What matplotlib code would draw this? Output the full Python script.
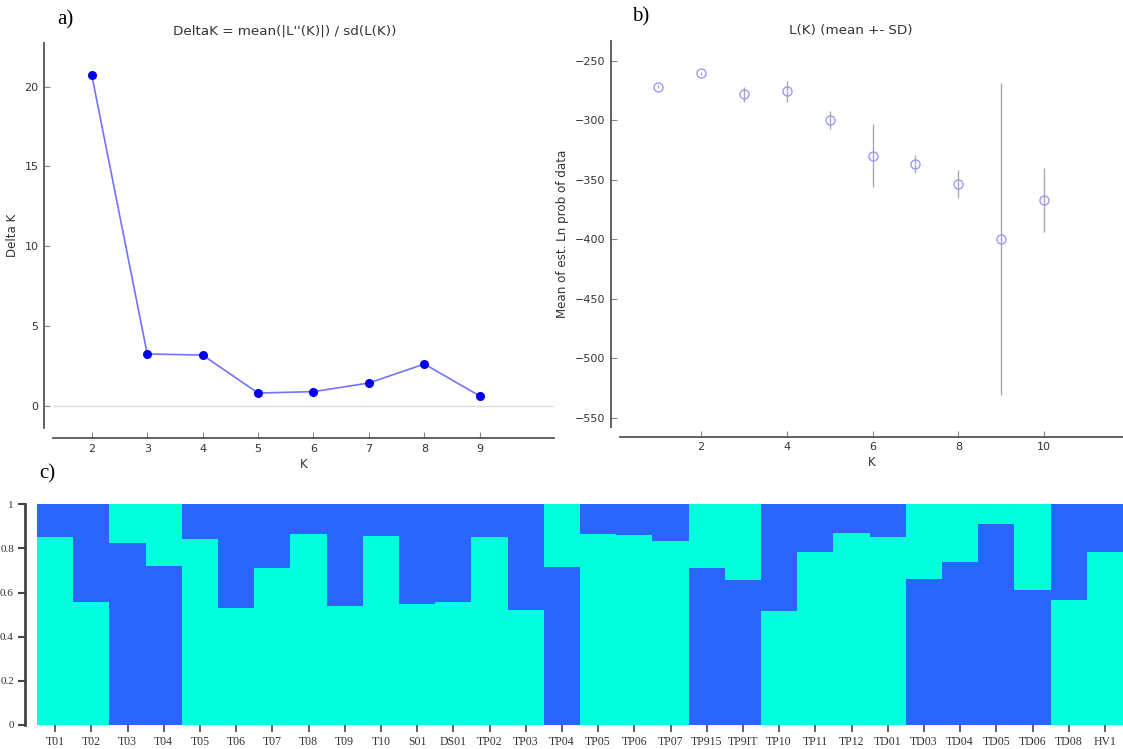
import matplotlib
matplotlib.use("Agg")
import matplotlib.pyplot as plt
import numpy as np

# a) Delta K by K
k_delta = [2, 3, 4, 5, 6, 7, 8, 9]
delta_k = [20.71, 3.24, 3.17, 0.79, 0.88, 1.42, 2.61, 0.61]

# b) L(K) mean and SD
k_lk = [1, 2, 3, 4, 5, 6, 7, 8, 9, 10]
lk_mean = [-271.6, -260.4, -278.0, -275.5, -299.4, -329.6, -336.4, -353.2, -399.7, -366.9]
lk_sd = [1.5, 1.0, 6.5, 8.7, 7.6, 26.6, 7.7, 11.8, 131.2, 27.3]

# c) membership in the cyan cluster (rest is blue)
samples = ["T01", "T02", "T03", "T04", "T05", "T06", "T07", "T08", "T09", "T10",
           "S01", "DS01", "TP02", "TP03", "TP04", "TP05", "TP06", "TP07", "TP915", "TP9IT",
           "TP10", "TP11", "TP12", "TD01", "TD03", "TD04", "TD05", "TD06", "TD08", "HV1"]
cyan_q = [0.852, 0.559, 0.177, 0.280, 0.841, 0.529, 0.711, 0.864, 0.538, 0.858,
          0.548, 0.559, 0.852, 0.521, 0.284, 0.864, 0.862, 0.832, 0.290, 0.342,
          0.515, 0.785, 0.869, 0.853, 0.337, 0.261, 0.089, 0.388, 0.565, 0.784]

CYAN = "#00ffdd"
BLUE = "#2866ff"
SPINE = "#555555"
TXT = "#333333"
W, H = 1123, 749

fig = plt.figure(figsize=(W / 100, H / 100), dpi=100)


def box(l, t, r, b):
    return [l / W, 1 - b / H, (r - l) / W, (b - t) / H]


def style_top(ax, xoff, yoff):
    for s in ["top", "right"]:
        ax.spines[s].set_visible(False)
    ax.spines["left"].set_position(("outward", xoff * 0.72))
    ax.spines["bottom"].set_position(("outward", yoff * 0.72))
    for s in ["left", "bottom"]:
        ax.spines[s].set_color(SPINE)
        ax.spines[s].set_linewidth(1.3)
    ax.tick_params(direction="in", length=4, width=0.8, color="#888888",
                   labelsize=8, labelcolor=TXT, pad=4)


# panel a
ax1 = fig.add_axes(box(53, 43, 554, 428))
ax1.axhline(0, color="#dddddd", lw=1, zorder=0)
ax1.plot(k_delta, delta_k, "-", color="#5a5aff", alpha=0.85, lw=1.2)
ax1.plot(k_delta, delta_k, "o", color="#0000ee", ms=5.5, mec="#0000ee")
ax1.set_xlim(1.3, 10.34)
ax1.set_ylim(-1.4, 22.73)
ax1.set_xticks(k_delta)
ax1.set_yticks([0, 5, 10, 15, 20])
style_top(ax1, 9, 10)
ax1.set_title("DeltaK = mean(|L''(K)|) / sd(L(K))", fontsize=9.7, color=TXT, pad=6,
              x=(285 - 53) / 501)
ax1.set_ylabel("Delta K", fontsize=8.6, color=TXT, labelpad=4)
ax1.set_xlabel("K", fontsize=8.6, color=TXT, labelpad=3)

# panel b
ax2 = fig.add_axes(box(620, 40.7, 1123, 426.7))
ax2.errorbar(k_lk, lk_mean, yerr=lk_sd, fmt="o", mfc="none", mec="#9a9aff",
             ms=6.5, mew=1.0, ecolor="#aaaaaa", elinewidth=1.0, capsize=0)
ax2.set_xlim(0.11, 11.84)
ax2.set_ylim(-557.6, -232.9)
ax2.set_xticks([2, 4, 6, 8, 10])
ax2.set_yticks([-550, -500, -450, -400, -350, -300, -250])
style_top(ax2, 9, 10)
ax2.set_title("L(K) (mean +- SD)", fontsize=9.7, color=TXT, pad=5,
              x=(851 - 620) / 503)
ax2.set_ylabel("Mean of est. Ln prob of data", fontsize=8.6, color=TXT, labelpad=4)
ax2.set_xlabel("K", fontsize=8.6, color=TXT, labelpad=3)

# panel c
ax3 = fig.add_axes(box(37, 504.3, 1123, 725))
x = np.arange(len(samples))
q = np.array(cyan_q)
bottom_is_cyan = q >= 0.5
low = np.where(bottom_is_cyan, q, 1 - q)
ax3.bar(x, low, width=1.0, color=np.where(bottom_is_cyan, CYAN, BLUE), linewidth=0)
ax3.bar(x, 1 - low, bottom=low, width=1.0, color=np.where(bottom_is_cyan, BLUE, CYAN),
        linewidth=0)
ax3.set_xlim(-0.5, len(samples) - 0.5)
ax3.set_ylim(0, 1)
for s in ["top", "right", "bottom"]:
    ax3.spines[s].set_visible(False)
ax3.spines["left"].set_position(("outward", 12 * 0.72))
ax3.spines["left"].set_color("#444444")
ax3.spines["left"].set_linewidth(2)
ax3.set_yticks([0, 0.2, 0.4, 0.6, 0.8, 1])
ax3.set_yticklabels(["0", "0.2", "0.4", "0.6", "0.8", "1"])
ax3.set_xticks(x)
ax3.set_xticklabels(samples)
ax3.tick_params(axis="y", direction="out", length=5, width=1.5, color="#444444",
                labelsize=8, labelcolor=TXT, pad=3)
ax3.tick_params(axis="x", direction="out", length=5, width=1.2, color="#444444",
                labelsize=8.5, labelcolor=TXT, pad=3)
for lab in ax3.get_xticklabels() + ax3.get_yticklabels():
    lab.set_family("Liberation Serif")

# panel letters
for txt, px, py in [("a)", 65, 20), ("b)", 641, 17), ("c)", 47, 474)]:
    fig.text(px / W, 1 - py / H, txt, fontsize=15, family="Liberation Serif",
             ha="center", va="center", color="black")

fig.savefig("out.png", dpi=100)
